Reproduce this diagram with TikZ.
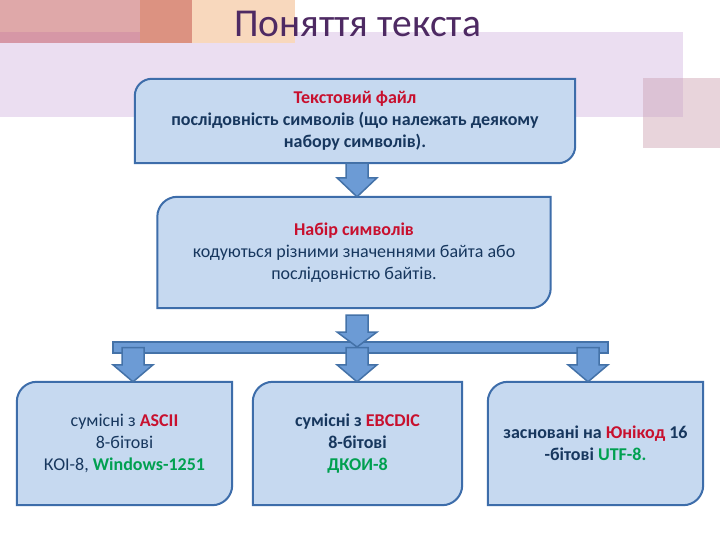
\documentclass[tikz,border=0pt]{standalone}
\usepackage{fontspec}
\setmainfont{Carlito}
\usetikzlibrary{calc,backgrounds}
\definecolor{lav}{HTML}{EBDEF1}
\definecolor{pinkA}{HTML}{DFA8A9}
\definecolor{pinkB}{HTML}{D697A6}
\definecolor{salmon}{HTML}{DC9281}
\definecolor{peach}{HTML}{F8D8BD}
\definecolor{rpink}{HTML}{E8D4DB}
\definecolor{rpinkB}{HTML}{DCC2D5}
\definecolor{titlec}{HTML}{4E2A63}
\definecolor{boxfill}{HTML}{C6D9F0}
\definecolor{boxdraw}{HTML}{3D6DAA}
\definecolor{arrfill}{HTML}{6C9BD5}
\definecolor{arrdraw}{HTML}{4472A8}
\definecolor{tblue}{HTML}{17375E}
\definecolor{tred}{HTML}{C8102E}
\definecolor{tgreen}{HTML}{00A050}
\tikzset{
  boxline/.style={fill=boxfill, draw=boxdraw, line width=2pt},
  barr/.style={fill=arrfill, draw=arrdraw, line width=1.5pt},
  txt/.style={inner sep=0pt, align=center, text=tblue, font=\fontsize{18}{22}\selectfont},
  btxt/.style={txt, font=\fontsize{18}{22}\selectfont\bfseries},
}
\newcommand\rbox[2]{%
  \filldraw[boxline] (#1.south west) -- ([yshift=-#2pt]#1.north west)
    arc[start angle=180,end angle=90,radius=#2pt] -- (#1.north east)
    -- ([yshift=#2pt]#1.south east) arc[start angle=0,end angle=-90,radius=#2pt] -- cycle;}
\newcommand\barrow[3]{%
  \filldraw[barr] ($(#1)+(-11,0)$) -- ($(#2)+(-11,-#3)$) -- ($(#2)+(-20,-#3)$) -- (#2)
    -- ($(#2)+(20,-#3)$) -- ($(#2)+(11,-#3)$) -- ($(#1)+(11,0)$) -- cycle;}
\begin{document}
\begin{tikzpicture}[x=1pt,y=-1pt]
\useasboundingbox (0,0) rectangle (720,540);
\begin{pgfonlayer}{background}
\fill[white] (0,0) rectangle (720,540);
\fill[lav] (0,32) rectangle (683,117);
\fill[pinkA] (0,0) rectangle (140,32);
\fill[pinkB] (0,32) rectangle (140,43);
\fill[salmon] (140,0) rectangle (192,43);
\fill[peach] (192,0) rectangle (295,43);
\fill[rpink] (643,78) rectangle (720,148);
\fill[rpinkB] (643,78) rectangle (683,117);
\end{pgfonlayer}

\node[anchor=base, text=titlec, font=\fontsize{39.5}{42}\selectfont, inner sep=0pt] (title) at (357.5,37) {Поняття текста};

\node[btxt, minimum width=440pt, minimum height=84pt] (b1) at (355,121)
  {{\color{tred}Текстовий файл}\\ послідовність символів (що належать деякому\\ набору символів).};
\node[txt, minimum width=393pt, minimum height=111pt] (b2) at (354,252.5)
  {{\bfseries\color{tred}Набір символів}\\ кодуються різними значеннями байта або\\ послідовністю байтів.};
\node[txt, minimum width=215pt, minimum height=123pt] (b3) at (124.5,443.5)
  {сумісні з {\bfseries\color{tred}ASCII}\\ 8-бітові\\ КОІ-8, {\bfseries\color{tgreen}Windows-1251}};
\node[btxt, minimum width=209pt, minimum height=123pt] (b4) at (357.5,443.5)
  {сумісні з {\color{tred}EBCDIC}\\ 8-бітові\\ {\color{tgreen}ДКОИ-8}};
\node[btxt, minimum width=215pt, minimum height=123pt] (b5) at (595.5,443.5)
  {засновані на {\color{tred}Юнікод} 16\\ -бітові {\color{tgreen}UTF-8.}};

\begin{pgfonlayer}{background}
\rbox{b1}{17}
\rbox{b2}{20}
\rbox{b3}{20}
\rbox{b4}{20}
\rbox{b5}{20}
\end{pgfonlayer}

\coordinate (ax) at (357,0);
\coordinate (lx) at (133,0);
\coordinate (rx) at (588,0);
\coordinate (a2s) at (357,315);
\coordinate (j) at (357,347);
\node[barr, minimum width=495pt, minimum height=11pt, inner sep=0pt] (bar) at (360.5,347.5) {};

\barrow{b1.south -| ax}{b2.north -| ax}{19}
\barrow{a2s}{j}{15}
\barrow{bar.center -| lx}{b3.north -| lx}{17}
\barrow{bar.center -| ax}{b4.north -| ax}{17}
\barrow{bar.center -| rx}{b5.north -| rx}{17}
\end{tikzpicture}
\end{document}
